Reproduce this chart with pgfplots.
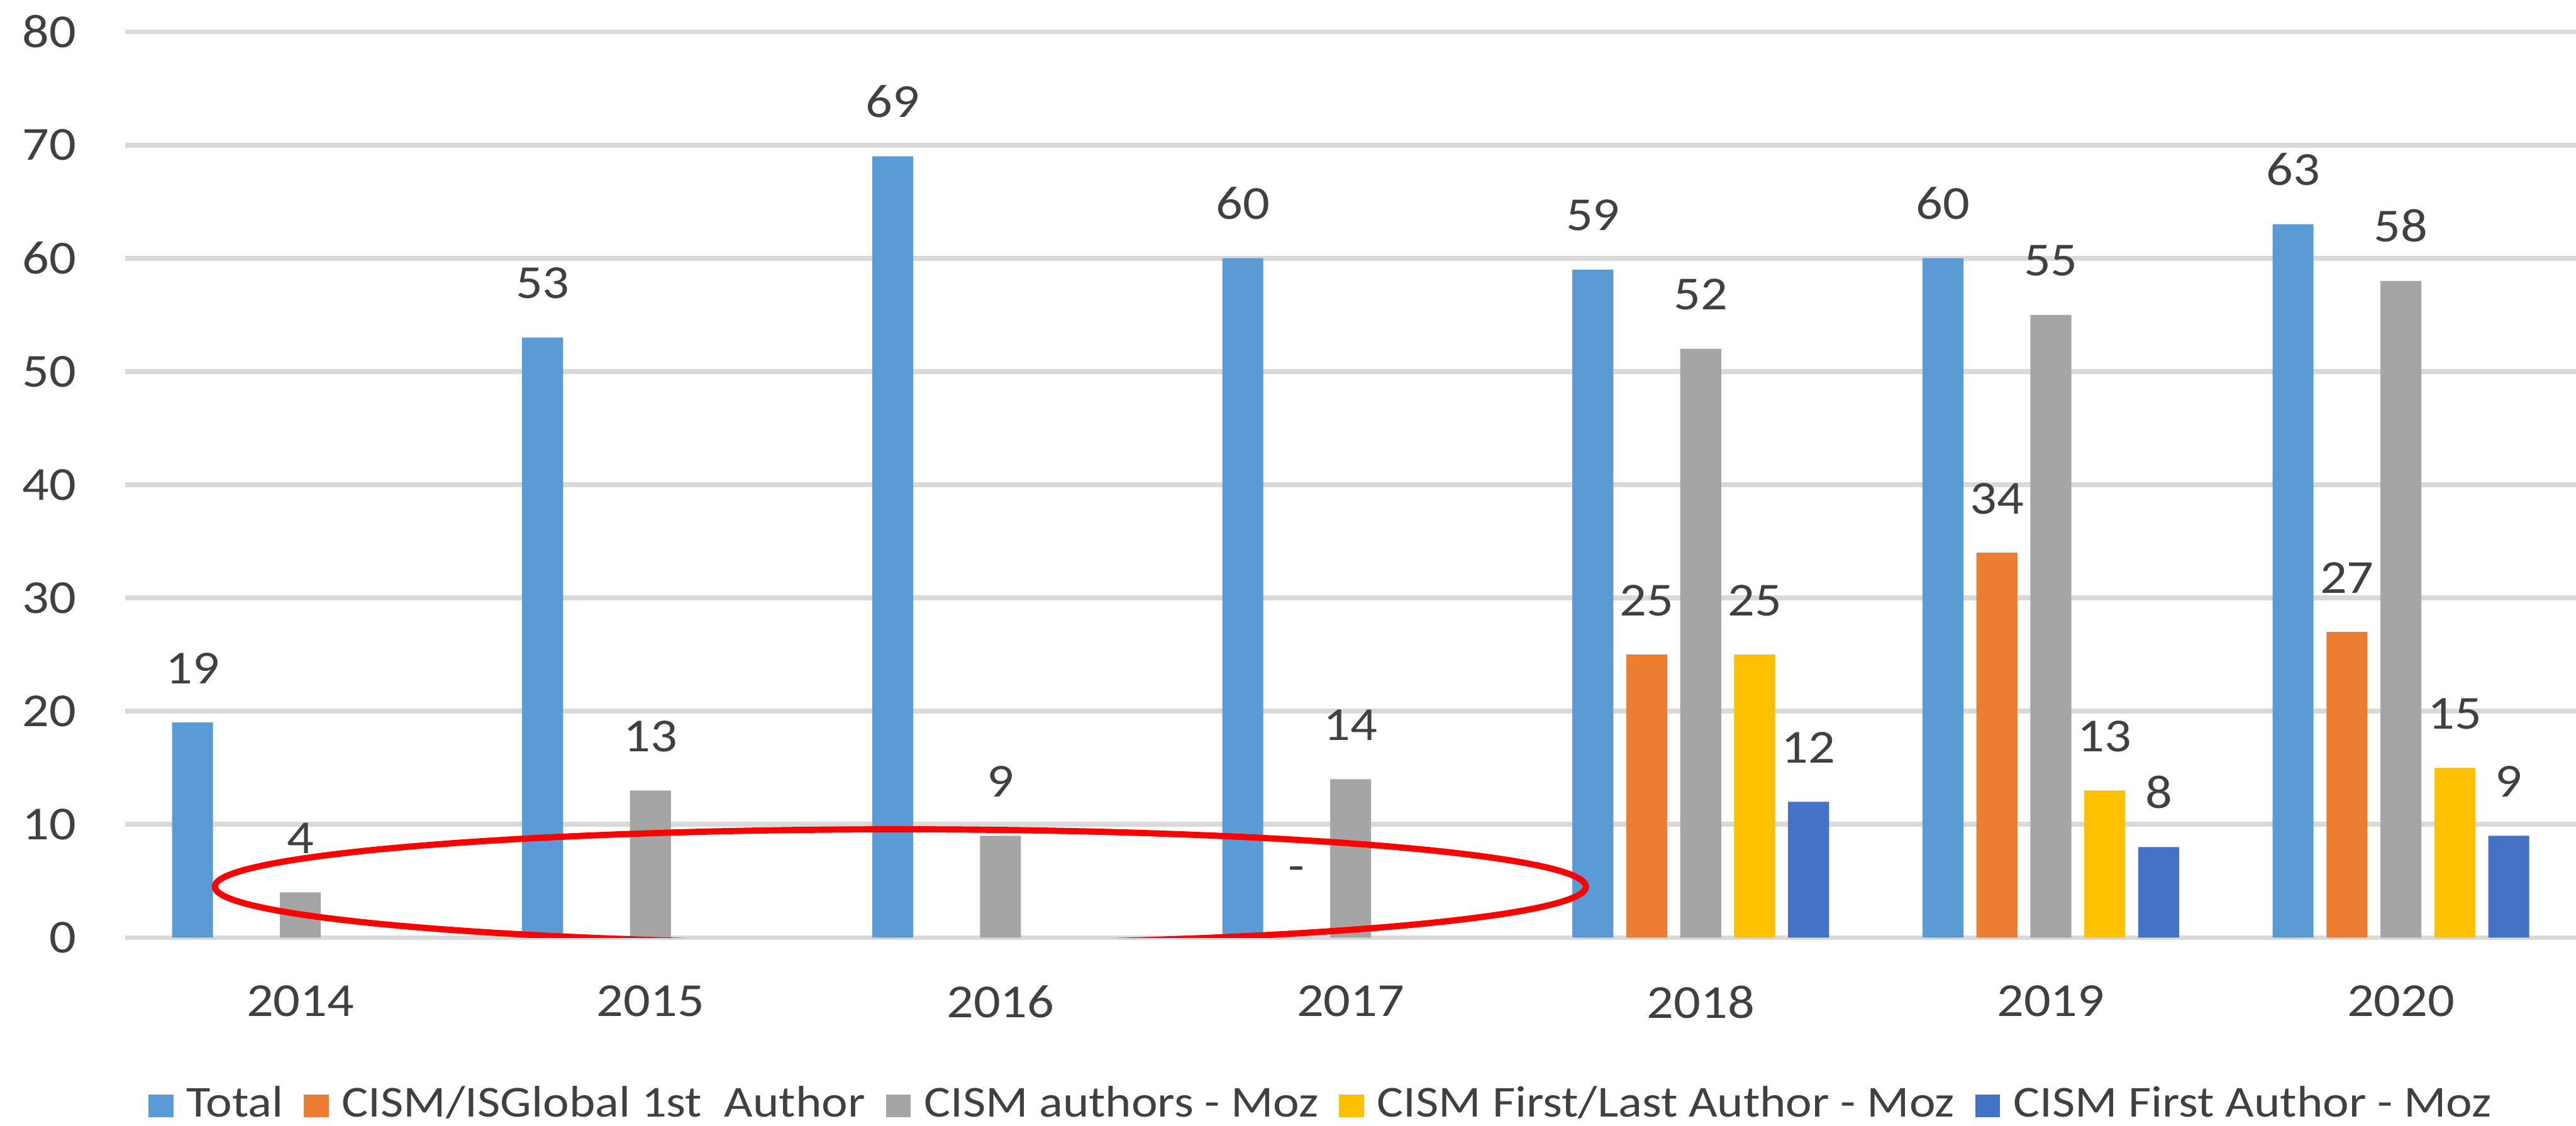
\documentclass[border=0pt]{standalone}
\usepackage{fontspec}
\setmainfont{Carlito}[FakeStretch=1.12]
\usepackage{pgfplots}
\pgfplotsset{compat=1.18}
\definecolor{cTotal}{HTML}{5B9BD5}
\definecolor{cOrange}{HTML}{ED7D31}
\definecolor{cGray}{HTML}{A5A5A5}
\definecolor{cYellow}{HTML}{FFC000}
\definecolor{cBlue}{HTML}{4472C4}
\definecolor{cGrid}{HTML}{D9D9D9}
\definecolor{cText}{HTML}{404040}
\newcommand{\mainfs}{\fontsize{7.6pt}{9pt}\selectfont}
\newcommand{\legfs}{\fontsize{7.1pt}{8.5pt}\selectfont}
\begin{document}
\begin{tikzpicture}
\begin{axis}[
  at={(0,0)}, anchor=south west,
  scale only axis, width=393.2pt, height=145.4pt,
  xmin=-0.5, xmax=6.5, ymin=0, ymax=80,
  ytick={0,10,...,80},
  xtick={0,1,2,3,4,5,6},
  xticklabels={2014,2015,2016,2017,2018,2019,2020},
  /pgf/number format/assume math mode=true,
  axis line style={draw=none},
  major tick length=0pt,
  ymajorgrids,
  major grid style={cGrid, line width=0.8pt},
  tick label style={font=\mainfs, text=cText},
  yticklabel style={anchor=east, inner sep=0pt, xshift=-7.7pt},
  xticklabel style={anchor=north, inner sep=0pt, yshift=-7.5pt},
  ybar, bar width=0.117,
  every axis plot/.append style={draw=none},
  nodes near coords, point meta=explicit symbolic,
  every node near coord/.append style={font=\mainfs, text=cText, anchor=south, inner sep=0pt, yshift=6pt},
  legend style={at={(0.4875,-0.1857)}, anchor=center, draw=none, fill=none,
    legend columns=-1, font=\legfs, text=cText, nodes={inner sep=0pt},
    /tikz/every odd column/.append style={column sep=2.1pt},
    /tikz/every even column/.append style={column sep=3.3pt}},
  legend image code/.code={\path[#1, draw=none] (0pt,-1.85pt) rectangle (4pt,1.85pt);},
]
\addplot[fill=cTotal, bar shift=-0.308] coordinates {(0,19) [19] (1,53) [53] (2,69) [69] (3,60) [60] (4,59) [59] (5,60) [60] (6,63) [63]};
\addplot[fill=cOrange, bar shift=-0.154] coordinates {(3,0) [{\raisebox{2.8pt}{-}}] (4,25) [25] (5,34) [34] (6,27) [27]};
\addplot[fill=cGray, bar shift=0] coordinates {(0,4) [4] (1,13) [13] (2,9) [9] (3,14) [14] (4,52) [52] (5,55) [55] (6,58) [58]};
\addplot[fill=cYellow, bar shift=0.154] coordinates {(4,25) [25] (5,13) [13] (6,15) [15]};
\addplot[fill=cBlue, bar shift=0.308] coordinates {(4,12) [12] (5,8) [8] (6,9) [9]};
\legend{Total, CISM/ISGlobal 1st\ \ Author, CISM authors - Moz, CISM First/Last Author - Moz, CISM First Author - Moz}
\draw[red, line width=1pt] (axis cs:1.714,4.51) ellipse [x radius=1.958, y radius=5.06];
\end{axis}
\pgfresetboundingbox
\path (-20.1pt,-30.2pt) rectangle (393.2pt,150.5pt);
\end{tikzpicture}
\end{document}
